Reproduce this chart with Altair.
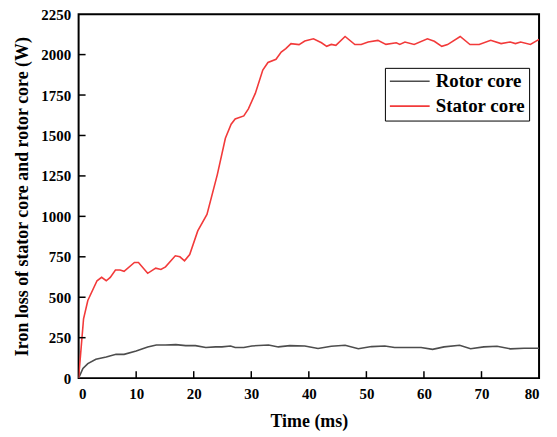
import altair as alt
import pandas as pd

# Stator core iron loss (W) vs time (ms)
stator_t = [0, 0.86, 1.6, 3.2, 4.0, 4.8, 5.5, 6.4, 7.2, 7.9, 9.7, 10.4, 12.0, 13.4,
            14.3, 15.1, 16.8, 17.6, 18.4, 19.3, 20.7, 22.3, 24.1, 25.5, 26.5, 27.2,
            28.7, 29.5, 30.7, 32.0, 32.9, 34.3, 35.2, 36.0, 36.9, 38.3, 39.3, 40.8,
            42.2, 43.1, 43.9, 44.7, 46.3, 48.0, 49.1, 50.3, 52.0, 53.4, 55.2, 55.8,
            56.7, 58.3, 60.6, 61.8, 63.1, 64.1, 66.3, 68.0, 69.6, 71.6, 73.4, 75.0,
            75.9, 76.8, 78.5, 80.0]
stator_w = [0, 367, 480, 602, 623, 602, 623, 668, 668, 660, 715, 715, 648, 680,
            672, 688, 756, 750, 725, 764, 910, 1012, 1258, 1483, 1570, 1602,
            1621, 1664, 1760, 1904, 1951, 1971, 2016, 2037, 2068, 2062, 2084, 2098,
            2073, 2051, 2063, 2057, 2112, 2062, 2062, 2078, 2088, 2063, 2073, 2063,
            2078, 2063, 2098, 2082, 2051, 2062, 2112, 2062, 2062, 2088, 2068, 2078,
            2068, 2078, 2063, 2094]

# Rotor core iron loss (W) vs time (ms)
rotor_t = [0, 0.75, 1.6, 3.0, 4.8, 6.5, 7.9, 10.0, 12.0, 13.5, 15.1, 16.9, 18.6,
           20.3, 22.1, 23.8, 24.9, 26.4, 27.2, 28.7, 30.1, 33.0, 34.7, 36.7, 39.3,
           41.6, 43.9, 46.3, 48.6, 50.9, 53.2, 54.9, 59.5, 61.5, 63.5, 66.2, 68.1,
           70.4, 72.7, 75.0, 77.4, 80.0]
rotor_w = [0, 60, 90, 117, 131, 147, 147, 168, 193, 205, 205, 207, 201,
           201, 189, 193, 193, 199, 189, 189, 199, 205, 193, 201, 199,
           183, 197, 203, 182, 195, 199, 189, 189, 178, 193, 203, 182,
           193, 197, 181, 185, 185]

series_names = ["Rotor core", "Stator core"]
series_colors = ["#4d4d4d", "#f23a3a"]
x_ticks = [0, 10, 20, 30, 40, 50, 60, 70, 80]
y_ticks = [0, 250, 500, 750, 1000, 1250, 1500, 1750, 2000, 2250]

df = pd.concat([
    pd.DataFrame({"t": rotor_t, "w": rotor_w, "s": series_names[0], "o": range(len(rotor_t))}),
    pd.DataFrame({"t": stator_t, "w": stator_w, "s": series_names[1], "o": range(len(stator_t))}),
])

W, H = 463, 366
FONT = "Liberation Serif"

xs = alt.Scale(domain=[0, 80], nice=False, zero=False)
ys = alt.Scale(domain=[0, 2250], nice=False)

lines = alt.Chart(df).mark_line(strokeWidth=1.6, clip=True).encode(
    x=alt.X("t:Q", scale=xs,
            axis=alt.Axis(title="Time (ms)", values=x_ticks, format="d", tickSize=0,
                          domain=False, grid=False, labelPadding=8, titlePadding=12)),
    y=alt.Y("w:Q", scale=ys,
            axis=alt.Axis(title="Iron loss of  stator core and rotor core (W)", values=y_ticks,
                          format="d", tickSize=0, domain=False, grid=False, labelPadding=8,
                          titlePadding=9)),
    color=alt.Color("s:N", scale=alt.Scale(domain=series_names, range=series_colors),
                    legend=alt.Legend(title=None, orient="none", legendX=308, legendY=54,
                                      symbolType="stroke", symbolSize=1600,
                                      symbolStrokeWidth=1.6, labelFontSize=19,
                                      labelFont=FONT, labelFontWeight="bold",
                                      labelColor="black", fillColor="white",
                                      strokeColor="black", padding=4, rowPadding=5,
                                      clipHeight=19, labelOffset=5, labelLimit=300)),
    order="o:Q",
)

xt = alt.Chart(pd.DataFrame({"v": x_ticks[1:-1]})).mark_rule(color="black", strokeWidth=1.5).encode(
    x=alt.X("v:Q", scale=xs), y=alt.value(H), y2=alt.value(H - 7))
yt = alt.Chart(pd.DataFrame({"v": y_ticks[1:-1]})).mark_rule(color="black", strokeWidth=1.5).encode(
    y=alt.Y("v:Q", scale=ys), x=alt.value(0), x2=alt.value(7))

chart = alt.layer(lines, xt, yt).properties(
    width=W, height=H,
    autosize=alt.AutoSizeParams(type="none"),
    padding={"left": 71, "top": 5, "right": 10, "bottom": 55},
).configure_view(stroke="black", strokeWidth=2).configure_axis(
    labelFont=FONT, labelFontSize=15, labelFontWeight="bold", labelColor="black",
    titleFont=FONT, titleFontSize=18, titleFontWeight="bold", titleColor="black",
)

chart.save("out.html", embed_options={"renderer": "svg", "actions": False})
